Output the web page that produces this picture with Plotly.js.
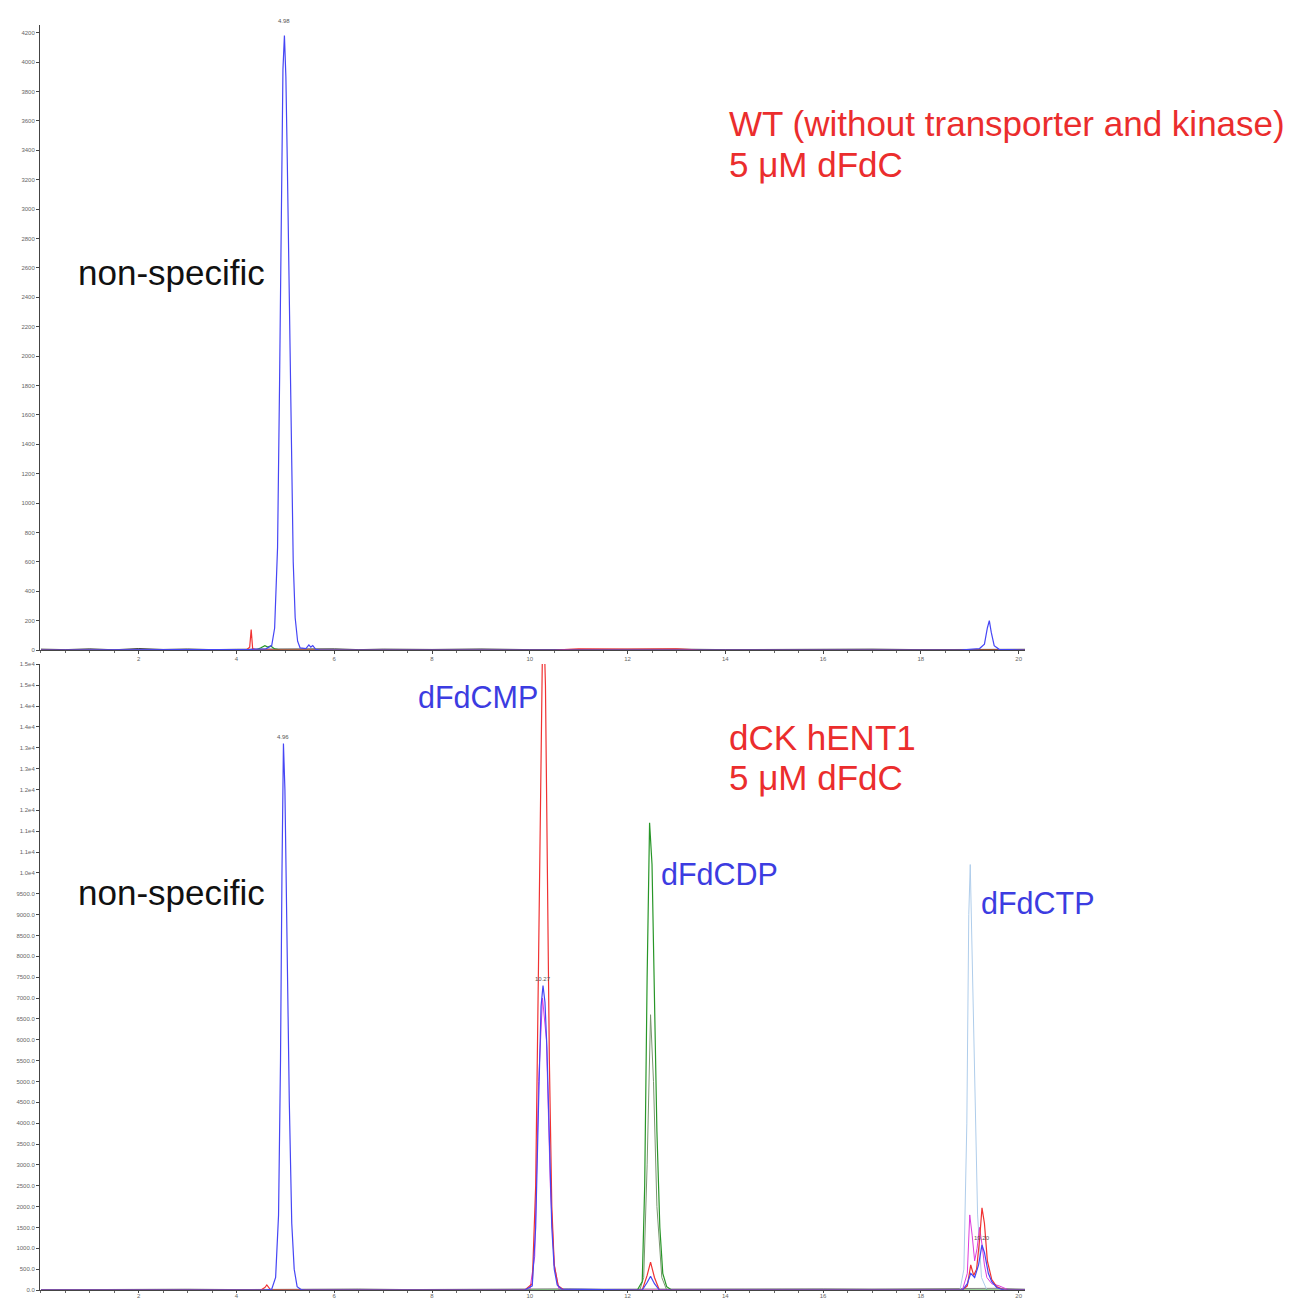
<!DOCTYPE html>
<html>
<head>
<meta charset="utf-8">
<script src="https://cdn.plot.ly/plotly-3.0.1.min.js"></script>
<style>html,body{margin:0;padding:0;background:#fff;}#chart{width:1294px;height:1298px;}</style>
</head>
<body>
<div id="chart"></div>
<script>
// ---------- DATA (retention time in min, intensity in counts) ----------
// Top panel: WT (without transporter and kinase)
const topBlueT = [0, 3.5, 4.3, 4.6, 4.72, 4.78, 4.84, 4.88, 4.92, 4.95, 4.98, 5.01, 5.04, 5.08, 5.12, 5.16, 5.2, 5.25, 5.3, 5.42, 5.48, 5.52, 5.56, 5.62, 5.7, 6.0, 8, 12, 16, 18.8, 19.2, 19.3, 19.36, 19.4, 19.44, 19.5, 19.6, 20.13];
const topBlueI = [0, 0, 5, 8, 30, 150, 700, 1800, 3200, 3950, 4180, 3900, 3300, 2300, 1300, 600, 220, 60, 15, 10, 35, 20, 30, 5, 0, 0, 0, 0, 0, 0, 10, 40, 150, 200, 120, 30, 5, 0];
const topRedT = [0, 4.2, 4.27, 4.3, 4.33, 4.4, 10.5, 11.0, 12.0, 13.0, 13.5, 20.13];
const topRedI = [0, 0, 20, 140, 10, 0, 0, 8, 6, 8, 0, 0];
const topGreenT = [0, 4.4, 4.5, 4.58, 4.64, 4.7, 4.78, 4.9, 20.13];
const topGreenI = [0, 0, 15, 30, 20, 28, 8, 0, 0];
const topBlackT = [0, 0.5, 1.0, 1.5, 2.0, 2.5, 3.0, 3.5, 4.0, 4.5, 6.0, 6.5, 7.0, 8.0, 9.0, 10.0, 11.0, 12.0, 13.0, 14.0, 15.0, 16.0, 17.0, 18.0, 18.8, 19.6, 20.13];
const topBlackI = [6, 3, 8, 2, 10, 4, 7, 3, 5, 6, 8, 3, 6, 4, 7, 3, 5, 4, 6, 3, 5, 4, 6, 3, 5, 4, 5];

// Bottom panel: dCK hENT1
const botBlueT = [0, 4.6, 4.72, 4.8, 4.86, 4.9, 4.93, 4.96, 4.99, 5.03, 5.08, 5.13, 5.18, 5.24, 5.32, 5.4, 9.9, 10.05, 10.12, 10.18, 10.23, 10.27, 10.31, 10.35, 10.4, 10.45, 10.5, 10.56, 10.65, 12.3, 12.4, 12.47, 12.55, 12.65, 18.85, 18.95, 19.02, 19.1, 19.18, 19.25, 19.3, 19.38, 19.45, 19.55, 19.7, 20.13];
const botBlueI = [0, 0, 20, 300, 1800, 5500, 10000, 13100, 12000, 8500, 4500, 1600, 500, 80, 10, 0, 0, 100, 1500, 4500, 6800, 7300, 6900, 5800, 3500, 1500, 500, 120, 20, 0, 180, 330, 150, 0, 0, 150, 400, 300, 600, 1080, 900, 400, 200, 60, 0, 0];
const botRedT = [0, 4.5, 4.58, 4.62, 4.7, 9.9, 10.05, 10.12, 10.18, 10.22, 10.26, 10.29, 10.32, 10.36, 10.4, 10.45, 10.5, 10.58, 10.7, 12.3, 12.4, 12.47, 12.55, 12.65, 18.85, 18.95, 19.02, 19.08, 19.14, 19.2, 19.25, 19.3, 19.36, 19.45, 19.55, 19.7, 20.13];
const botRedI = [0, 0, 60, 120, 0, 0, 150, 2500, 8000, 13000, 15500, 15800, 14500, 10000, 5500, 2000, 600, 100, 0, 0, 350, 670, 300, 0, 0, 100, 600, 350, 500, 1200, 1970, 1600, 700, 250, 80, 0, 0];
const botGreenT = [0, 12.2, 12.3, 12.35, 12.4, 12.45, 12.5, 12.55, 12.6, 12.66, 12.72, 12.8, 12.9, 20.13];
const botGreenI = [0, 0, 200, 2500, 7500, 11200, 10200, 7000, 3800, 1500, 400, 80, 0, 0];
const botOliveT = [12.25, 12.33, 12.4, 12.47, 12.53, 12.6, 12.7, 12.8];
const botOliveI = [0, 300, 3000, 6600, 5000, 2000, 300, 0];
const botMagentaT = [0, 10.0, 10.1, 10.18, 10.26, 10.34, 10.42, 10.5, 10.6, 18.85, 18.95, 19.0, 19.05, 19.1, 19.15, 19.2, 19.25, 19.3, 19.35, 19.45, 19.6, 19.8, 20.13];
const botMagentaI = [0, 0, 800, 5000, 7000, 6000, 2500, 600, 0, 0, 400, 1800, 1300, 700, 1000, 1500, 1100, 600, 300, 150, 100, 0, 0];
const botLightBlueT = [18.8, 18.88, 18.94, 18.98, 19.01, 19.05, 19.1, 19.16, 19.24, 19.35];
const botLightBlueI = [0, 500, 4000, 9000, 10200, 8000, 4500, 1800, 300, 0];
const botBlackT = [0, 1.0, 2.0, 3.0, 4.0, 5.5, 6.5, 7.5, 8.5, 9.5, 10.8, 11.5, 13.0, 14.0, 15.0, 16.0, 17.0, 18.0, 19.6, 20.13];
const botBlackI = [5, 15, 8, 20, 10, 15, 25, 10, 20, 15, 30, 20, 25, 35, 25, 30, 25, 30, 40, 20];

// Tick labels
const xTickVals = [2, 4, 6, 8, 10, 12, 14, 16, 18, 20];
const topYTickVals = [0, 200, 400, 600, 800, 1000, 1200, 1400, 1600, 1800, 2000, 2200, 2400, 2600, 2800, 3000, 3200, 3400, 3600, 3800, 4000, 4200];
const botYTickVals = [0, 500, 1000, 1500, 2000, 2500, 3000, 3500, 4000, 4500, 5000, 5500, 6000, 6500, 7000, 7500, 8000, 8500, 9000, 9500, 10000, 10500, 11000, 11500, 12000, 12500, 13000, 13500, 14000, 14500, 15000];
const botYTickText = ["0.0", "500.0", "1000.0", "1500.0", "2000.0", "2500.0", "3000.0", "3500.0", "4000.0", "4500.0", "5000.0", "5500.0", "6000.0", "6500.0", "7000.0", "7500.0", "8000.0", "8500.0", "9000.0", "9500.0", "1.0e4", "1.1e4", "1.1e4", "1.2e4", "1.2e4", "1.3e4", "1.3e4", "1.4e4", "1.4e4", "1.5e4", "1.5e4"];

// Peak retention-time labels
const topPeakLabels = [{t: 4.98, y: 4180, text: "4.98"}];
const botPeakLabels = [{t: 4.96, y: 13100, text: "4.96"}, {t: 10.27, y: 7300, text: "10.27"}, {t: 19.25, y: 1080, text: "19.20"}];

// ---------- CHART ----------
const blue = "rgb(70,70,245)", red = "rgb(240,50,50)", green = "rgb(40,150,40)";
function tr(x, y, color, xa, ya, w) {
  return {x: x, y: y, xaxis: xa, yaxis: ya, type: "scatter", mode: "lines",
          line: {color: color, width: w || 1.2}, hoverinfo: "skip", showlegend: false};
}
const data = [
  tr(topBlackT, topBlackI, "#333", "x", "y", 1),
  tr(topGreenT, topGreenI, green, "x", "y"),
  tr(topRedT, topRedI, red, "x", "y"),
  tr(topBlueT, topBlueI, blue, "x", "y"),
  tr(botBlackT, botBlackI, "#666", "x2", "y2", 0.8),
  tr(botLightBlueT, botLightBlueI, "rgb(175,205,235)", "x2", "y2", 1),
  tr(botMagentaT, botMagentaI, "rgb(220,60,220)", "x2", "y2", 1),
  tr(botOliveT, botOliveI, "rgb(120,150,110)", "x2", "y2", 1),
  tr(botGreenT, botGreenI, green, "x2", "y2"),
  tr(botRedT, botRedI, red, "x2", "y2"),
  tr(botBlueT, botBlueI, blue, "x2", "y2")
];

const axisFont = {family: "Liberation Sans, Arial, sans-serif", size: 6, color: "#666"};
const xAxisBase = {range: [-0.02, 20.13], showgrid: false, zeroline: false, showline: true,
  linecolor: "#444", linewidth: 1, ticks: "outside", ticklen: 3, tickcolor: "#444",
  tickmode: "array", tickvals: xTickVals, tickfont: axisFont,
  minor: {dtick: 0.5, ticks: "outside", ticklen: 2, tickcolor: "#666"}};
const bigFont = (c, s) => ({family: "Liberation Sans, Arial, sans-serif", size: s, color: c});
const annRed = "rgb(235,45,45)", annBlue = "rgb(60,60,225)";

const annotations = [
  {xref: "x", yref: "y", x: 14.04, y: 3580, text: "WT (without transporter and kinase)", xanchor: "left", showarrow: false, font: bigFont(annRed, 35)},
  {xref: "x", yref: "y", x: 14.04, y: 3300, text: "5 μM dFdC", xanchor: "left", showarrow: false, font: bigFont(annRed, 35)},
  {xref: "x", yref: "y", x: 0.72, y: 2565, text: "non-specific", xanchor: "left", showarrow: false, font: bigFont("#111", 35)},
  {xref: "x2", yref: "y2", x: 14.04, y: 13250, text: "dCK hENT1", xanchor: "left", showarrow: false, font: bigFont(annRed, 35)},
  {xref: "x2", yref: "y2", x: 14.04, y: 12290, text: "5 μM dFdC", xanchor: "left", showarrow: false, font: bigFont(annRed, 35)},
  {xref: "x2", yref: "y2", x: 0.72, y: 9537, text: "non-specific", xanchor: "left", showarrow: false, font: bigFont("#111", 35)},
  {xref: "x2", yref: "y2", x: 7.68, y: 14210, text: "dFdCMP", xanchor: "left", showarrow: false, font: bigFont(annBlue, 30.5)},
  {xref: "x2", yref: "y2", x: 12.64, y: 9970, text: "dFdCDP", xanchor: "left", showarrow: false, font: bigFont(annBlue, 30.5)},
  {xref: "x2", yref: "y2", x: 19.18, y: 9270, text: "dFdCTP", xanchor: "left", showarrow: false, font: bigFont(annBlue, 30.5)}
];
topPeakLabels.forEach(p => annotations.push({xref: "x", yref: "y", x: p.t, y: p.y, text: p.text, showarrow: false, yanchor: "bottom", yshift: 10, font: {family: "Liberation Sans, Arial", size: 6, color: "#555"}}));
botPeakLabels.forEach(p => annotations.push({xref: "x2", yref: "y2", x: p.t, y: p.y, text: p.text, showarrow: false, yanchor: "bottom", yshift: 2, font: {family: "Liberation Sans, Arial", size: 6, color: "#555"}}));

const layout = {
  width: 1294, height: 1298,
  margin: {l: 40, r: 269, t: 25, b: 8},
  paper_bgcolor: "#fff", plot_bgcolor: "#fff",
  showlegend: false,
  xaxis: Object.assign({}, xAxisBase, {anchor: "y"}),
  xaxis2: Object.assign({}, xAxisBase, {anchor: "y2", ticklen: 2, ticklabelstandoff: -2}),
  yaxis: {domain: [0.5059, 1], range: [0, 4252], showgrid: false, zeroline: false, showline: true,
    linecolor: "#444", linewidth: 1, ticks: "outside", ticklen: 3, tickcolor: "#444",
    tickmode: "array", tickvals: topYTickVals, tickfont: axisFont, anchor: "x"},
  yaxis2: {domain: [0, 0.4949], range: [0, 15010], showgrid: false, zeroline: false, showline: true,
    linecolor: "#444", linewidth: 1, ticks: "outside", ticklen: 3, tickcolor: "#444",
    tickmode: "array", tickvals: botYTickVals, ticktext: botYTickText, tickfont: axisFont, anchor: "x2"},
  annotations: annotations
};
Plotly.newPlot("chart", data, layout, {staticPlot: true, displayModeBar: false});
</script>
</body>
</html>
